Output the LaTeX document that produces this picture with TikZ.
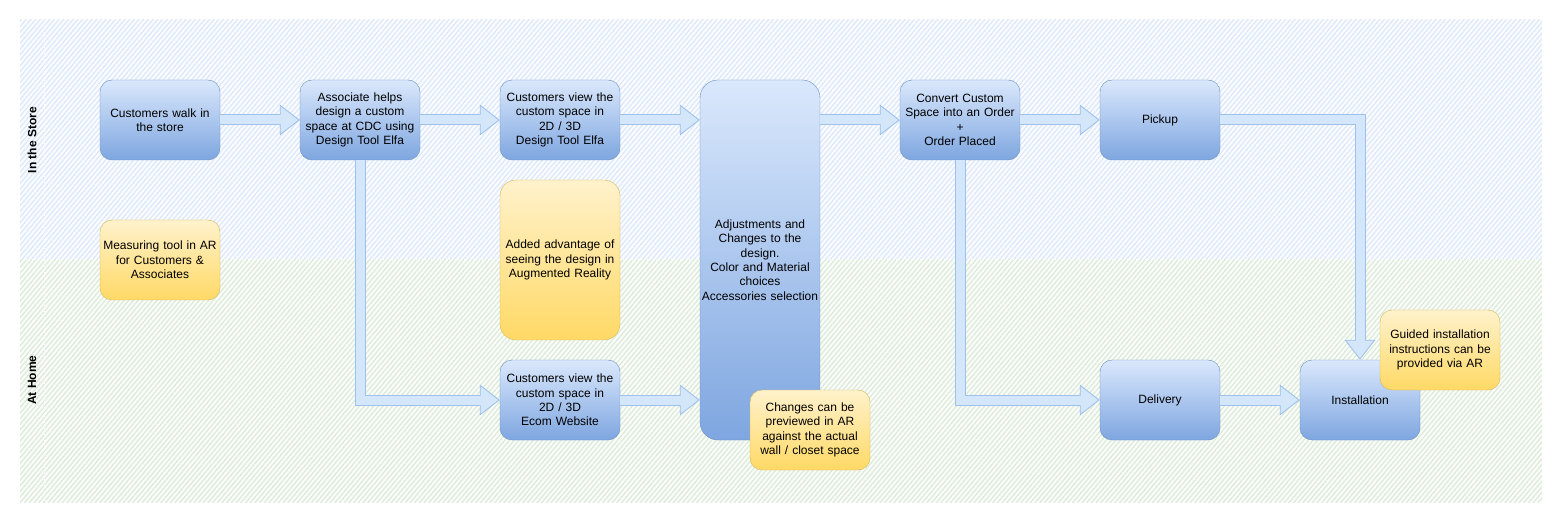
\documentclass[tikz,border=0pt]{standalone}
\usepackage{fontspec}
\setmainfont{Liberation Sans}
\usetikzlibrary{arrows.meta}
\usetikzlibrary{patterns.meta}
\definecolor{boxtop}{HTML}{DAE8FC}
\definecolor{boxbot}{HTML}{7EA6E0}
\definecolor{boxline}{HTML}{6C8EBF}
\definecolor{notetop}{HTML}{FFF2CC}
\definecolor{notebot}{HTML}{FFD966}
\definecolor{noteline}{HTML}{D6B656}
\definecolor{arrowline}{HTML}{9DC0EC}
\definecolor{arrowfill}{HTML}{D4E6FA}
\definecolor{storebg}{HTML}{FBFCFF}
\definecolor{storehatch}{HTML}{DDE9FA}
\definecolor{homebg}{HTML}{FBFDFA}
\definecolor{homehatch}{HTML}{DCEBD9}

\begin{document}
\begin{tikzpicture}[
  x=1pt, y=-1pt,
  font=\fontsize{12}{14.3}\selectfont,
  stepbox/.style={draw=boxline, top color=boxtop, bottom color=boxbot, rounded corners=12pt,
    minimum width=120pt, minimum height=80pt, inner sep=0pt, text width=118pt, align=center},
  note/.style={draw=noteline, top color=notetop, bottom color=notebot, rounded corners=12pt,
    minimum width=120pt, minimum height=80pt, inner sep=0pt, text width=118pt, align=center},
  flowedge/.style={line width=11pt, draw=arrowline, line join=miter,
    -{Triangle[length=20pt, width=31pt, line width=0pt 0]}},
  flowcore/.style={line width=9pt, draw=arrowfill, line join=miter, shorten >=1.6pt,
    -{Triangle[length=17.5pt, width=27pt, line width=0pt 0]}},
  hatch/.style={pattern={Lines[angle=50, distance=3.6pt, line width=1.3pt]}},
  lane/.style={font=\fontsize{12}{14}\selectfont\bfseries, rotate=90}
]
\useasboundingbox (0,0) rectangle (1561,521);

% Lanes
\fill[storebg] (20,20) rectangle (1542,260);
\fill[hatch, pattern color=storehatch] (20,20) rectangle (1542,260);
\fill[homebg] (20,260) rectangle (1542,502);
\fill[hatch, pattern color=homehatch] (20,260) rectangle (1542,502);
\draw[white, dotted, line width=1pt] (20,260) -- (1542,260);
\draw[white, dotted, line width=1pt] (44,20) -- (44,502);
\node[lane] (store) at (32,140) {In the Store};
\node[lane] (home) at (32,380) {At Home};

% Steps
\node[stepbox] (walk) at (160,120) {Customers walk in\\the store};
\node[stepbox] (assoc) at (360,120) {Associate helps\\design a custom\\space at CDC using\\Design Tool Elfa};
\node[stepbox] (view) at (560,120) {Customers view the\\custom space in\\2D / 3D\\Design Tool Elfa};
\node[stepbox, minimum height=360pt, rounded corners=18pt] (adjust) at (760,260)
  {Adjustments and\\Changes to the\\design.\\Color and Material\\choices\\Accessories selection};
\node[stepbox] (convert) at (960,120) {Convert Custom\\Space into an Order\\+\\Order Placed};
\node[stepbox] (pickup) at (1160,120) {Pickup};
\node[stepbox] (ecom) at (560,400) {Customers view the\\custom space in\\2D / 3D\\Ecom Website};
\node[stepbox] (delivery) at (1160,400) {Delivery};
\node[stepbox] (install) at (1360,400) {Installation};

% AR notes
\node[note] (measure) at (160,260) {Measuring tool in AR\\for Customers \&\\Associates};
\node[note, minimum height=160pt, rounded corners=16pt] (advantage) at (560,260)
  {Added advantage of\\seeing the design in\\Augmented Reality};
\node[note] (preview) at (810,430) {Changes can be\\previewed in AR\\against the actual\\wall / closet space};
\node[note] (guided) at (1440,350) {Guided installation\\instructions can be\\provided via AR};

% Flow arrows
\foreach \s in {flowedge, flowcore}{
  \draw[\s] (walk.east) -- (assoc.west);
  \draw[\s] (assoc.east) -- (view.west);
  \draw[\s] (view.east) -- (view.east -| adjust.west);
  \draw[\s] (convert.west -| adjust.east) -- (convert.west);
  \draw[\s] (convert.east) -- (pickup.west);
  \draw[\s] (assoc.south) |- (ecom.west);
  \draw[\s] (ecom.east) -- (ecom.east -| adjust.west);
  \draw[\s] (convert.south) |- (delivery.west);
  \draw[\s] (delivery.east) -- (install.west);
  \draw[\s] (pickup.east) -| (install.north);
}

\end{tikzpicture}
\end{document}
